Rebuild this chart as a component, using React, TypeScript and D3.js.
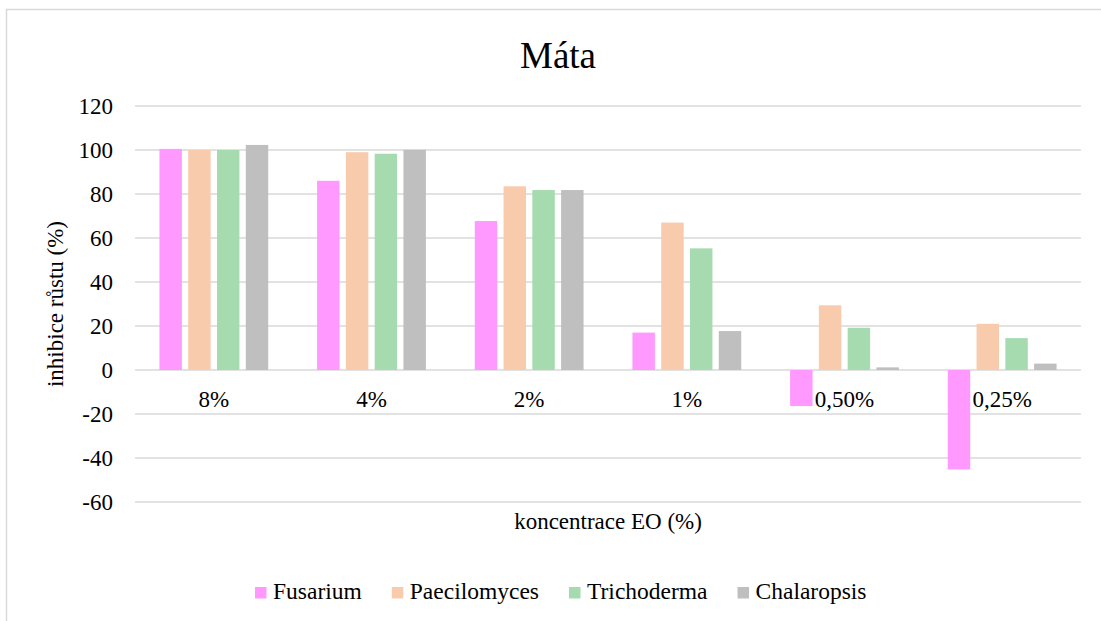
import React, { useEffect, useRef } from 'react';
import * as d3 from 'd3';

const categories = ['8%', '4%', '2%', '1%', '0,50%', '0,25%'];
const seriesNames = ['Fusarium', 'Paecilomyces', 'Trichoderma', 'Chalaropsis'];
const fusarium = [100.5, 86, 67.7, 17, -16.4, -45.2];
const paecilomyces = [100, 99, 83.5, 67, 29.4, 21];
const trichoderma = [100, 98.3, 81.8, 55.3, 19.2, 14.5];
const chalaropsis = [102.3, 100.1, 81.8, 17.7, 1.2, 2.9];
const yTicks = [-60, -40, -20, 0, 20, 40, 60, 80, 100, 120];
const colors = ['#ff99ff', '#f8cbad', '#a6dbb0', '#bfbfbf'];

const FONT = 'Liberation Serif';

const App = () => {
  const svgRef = useRef<SVGSVGElement>(null);

  useEffect(() => {
    document.body.style.margin = '0';
    const svg = d3.select(svgRef.current);
    svg.selectAll('*').remove();

    const W = 1101;
    const H = 621;
    const margin = { top: 106, right: 20, bottom: 119, left: 135 };
    const plotW = W - margin.left - margin.right;
    const plotH = H - margin.top - margin.bottom;

    svg.attr('width', W).attr('height', H)
      .attr('font-family', FONT);

    // outer chart border
    svg.append('rect')
      .attr('x', 6.5).attr('y', 9.5)
      .attr('width', W + 20).attr('height', H + 20)
      .attr('fill', '#fff')
      .attr('stroke', '#d9d9d9')
      .attr('stroke-width', 1.5);

    const g = svg.append('g').attr('transform', `translate(${margin.left},${margin.top})`);

    const y = d3.scaleLinear().domain([-60, 120]).range([plotH, 0]);
    const x0 = d3.scaleBand().domain(categories).range([0, plotW]).paddingInner(0.31).paddingOuter(0.155);
    const x1 = d3.scaleBand().domain(seriesNames).range([0, x0.bandwidth()]).paddingInner(0.22);

    // grid lines
    g.selectAll('.grid')
      .data(yTicks)
      .enter().append('line')
      .attr('x1', 0).attr('x2', plotW)
      .attr('y1', d => y(d)).attr('y2', d => y(d))
      .attr('stroke', '#d9d9d9')
      .attr('stroke-width', 1.5);

    // y tick labels
    g.selectAll('.ytick')
      .data(yTicks)
      .enter().append('text')
      .attr('x', -22)
      .attr('y', d => y(d))
      .attr('dy', '0.35em')
      .attr('text-anchor', 'end')
      .attr('font-size', 23)
      .attr('fill', '#000')
      .text(d => d);

    const allSeries = [fusarium, paecilomyces, trichoderma, chalaropsis];

    // bars
    allSeries.forEach((vals, si) => {
      g.selectAll(`.bar-${si}`)
        .data(vals)
        .enter().append('rect')
        .attr('x', (d, i) => (x0(categories[i]) || 0) + (x1(seriesNames[si]) || 0))
        .attr('y', d => y(Math.max(0, d)))
        .attr('width', x1.bandwidth())
        .attr('height', d => Math.abs(y(d) - y(0)))
        .attr('fill', colors[si]);
    });

    // category labels
    g.selectAll('.cat')
      .data(categories)
      .enter().append('text')
      .attr('x', d => (x0(d) || 0) + x0.bandwidth() / 2)
      .attr('y', y(0) + 37)
      .attr('text-anchor', 'middle')
      .attr('font-size', 23)
      .attr('fill', '#000')
      .text(d => d);

    // title
    svg.append('text')
      .attr('x', 558).attr('y', 68)
      .attr('text-anchor', 'middle')
      .attr('font-size', 37)
      .attr('fill', '#000')
      .text('Máta');

    // axis titles
    svg.append('text')
      .attr('x', margin.left + plotW / 2).attr('y', 529)
      .attr('text-anchor', 'middle')
      .attr('font-size', 23)
      .attr('fill', '#000')
      .text('koncentrace EO (%)');

    svg.append('text')
      .attr('transform', `translate(63, ${margin.top + plotH / 2}) rotate(-90)`)
      .attr('text-anchor', 'middle')
      .attr('font-size', 23)
      .attr('fill', '#000')
      .text('inhibice růstu (%)');

    // legend
    const legend = svg.append('g');
    let lx = 255;
    seriesNames.forEach((name, i) => {
      legend.append('rect')
        .attr('x', lx).attr('y', 587)
        .attr('width', 11.5).attr('height', 11.5)
        .attr('fill', colors[i]);
      const t = legend.append('text')
        .attr('x', lx + 18).attr('y', 599)
        .attr('font-size', 23.5)
        .attr('fill', '#000')
        .text(name);
      const tw = (t.node() as SVGTextElement).getComputedTextLength();
      lx = lx + 18 + tw + 30;
    });
  }, []);

  return (
    <div style={{ position: 'absolute', left: 0, top: 0 }}>
      <svg ref={svgRef}></svg>
    </div>
  );
};

export default App;
